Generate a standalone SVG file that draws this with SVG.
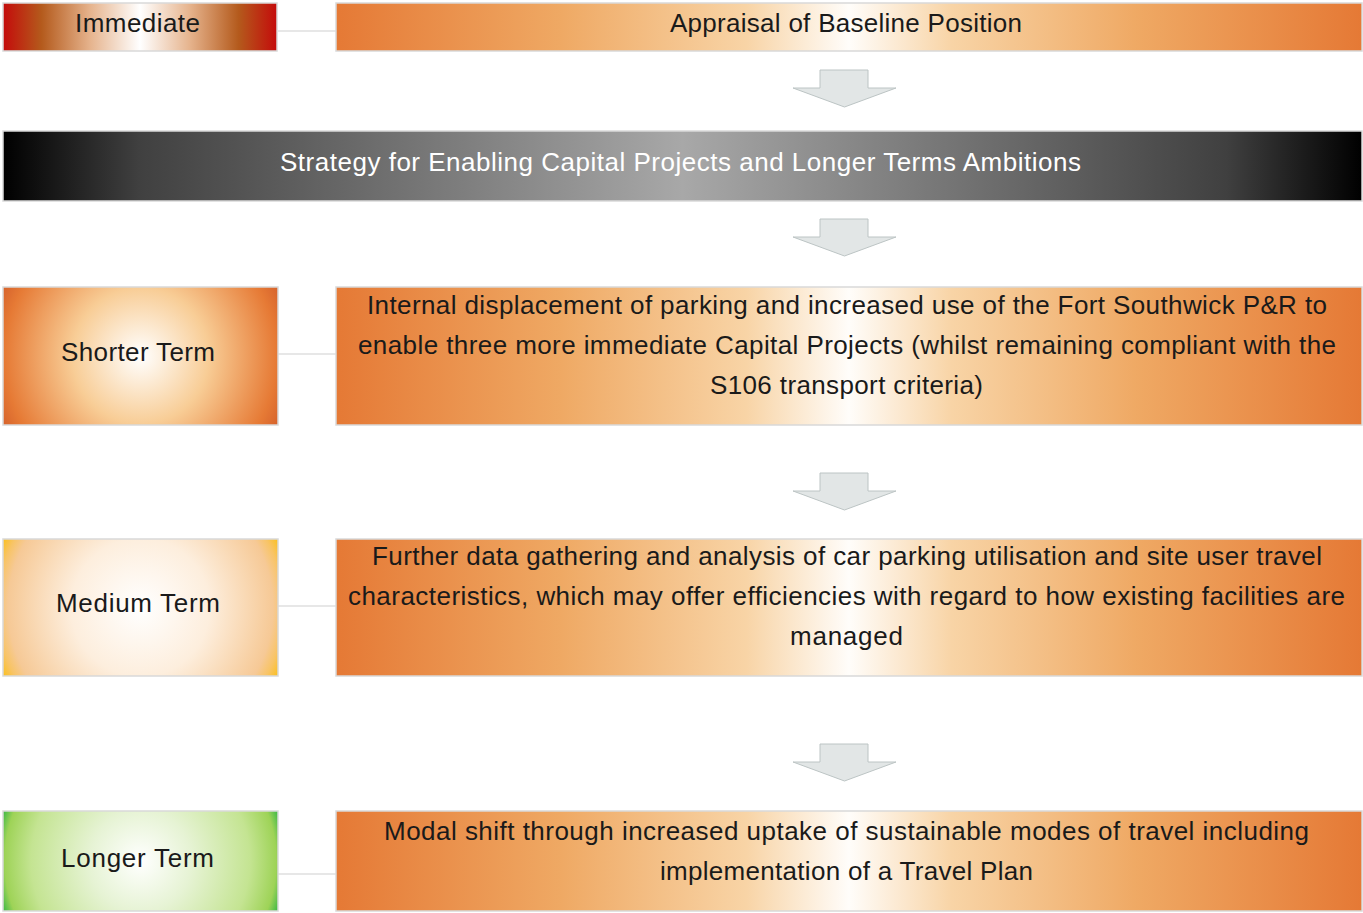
<svg xmlns="http://www.w3.org/2000/svg" width="1363" height="913" viewBox="0 0 1363 913">
  <defs>
    <linearGradient id="gOrange" x1="0" y1="0" x2="1" y2="0">
      <stop offset="0" stop-color="#e57935"/>
      <stop offset="0.22" stop-color="#efa964"/>
      <stop offset="0.4" stop-color="#f8d4a6"/>
      <stop offset="0.5" stop-color="#fffdfa"/>
      <stop offset="0.6" stop-color="#f8d4a6"/>
      <stop offset="0.78" stop-color="#efa964"/>
      <stop offset="1" stop-color="#e57935"/>
    </linearGradient>
    <linearGradient id="gRed" x1="0" y1="0" x2="1" y2="0">
      <stop offset="0" stop-color="#c40b0b"/>
      <stop offset="0.14" stop-color="#b45a1c"/>
      <stop offset="0.32" stop-color="#e6b48e"/>
      <stop offset="0.5" stop-color="#ffffff"/>
      <stop offset="0.68" stop-color="#e6b48e"/>
      <stop offset="0.86" stop-color="#b45a1c"/>
      <stop offset="1" stop-color="#c40b0b"/>
    </linearGradient>
    <linearGradient id="gGrey" x1="0" y1="0" x2="1" y2="0">
      <stop offset="0" stop-color="#000000"/>
      <stop offset="0.1" stop-color="#404040"/>
      <stop offset="0.5" stop-color="#a8a8a8"/>
      <stop offset="0.9" stop-color="#404040"/>
      <stop offset="1" stop-color="#000000"/>
    </linearGradient>
    <radialGradient id="gShort" gradientUnits="userSpaceOnUse" cx="140.5" cy="356" r="170">
      <stop offset="0" stop-color="#ffffff"/>
      <stop offset="0.4" stop-color="#f8cd96"/>
      <stop offset="0.8" stop-color="#e67a35"/>
      <stop offset="0.92" stop-color="#d45f2a"/>
      <stop offset="1" stop-color="#cf5a28"/>
    </radialGradient>
    <radialGradient id="gMedium" gradientUnits="userSpaceOnUse" cx="140.5" cy="607.5" r="154">
      <stop offset="0" stop-color="#ffffff"/>
      <stop offset="0.45" stop-color="#fdeedd"/>
      <stop offset="0.86" stop-color="#f6c996"/>
      <stop offset="0.93" stop-color="#f8c466"/>
      <stop offset="1" stop-color="#fbc01a"/>
    </radialGradient>
    <radialGradient id="gLong" gradientUnits="userSpaceOnUse" cx="140.5" cy="861" r="146">
      <stop offset="0" stop-color="#ffffff"/>
      <stop offset="0.35" stop-color="#e6f3d4"/>
      <stop offset="0.75" stop-color="#c4e492"/>
      <stop offset="0.93" stop-color="#9ed357"/>
      <stop offset="1" stop-color="#3cb846"/>
    </radialGradient>
    <path id="downArrow" d="M820,0 H868 V18 H896 L844.5,37 L793,18 H820 Z"/>
  </defs>
  <style>
    .box { stroke: #d9d9d9; stroke-width: 1.5; }
    .lbl { font-family: "Liberation Sans", Arial, sans-serif; font-size: 26px; fill: #1a1a1a; text-anchor: middle; }
    .white { fill: #ffffff; }
    .link { stroke: #d0d0d0; stroke-width: 1.2; fill: none; }
    .arrow { fill: #e2e6e6; stroke: #bcc4c4; stroke-width: 1; }
  </style>

  <g id="connectors">
    <line class="link" x1="278" y1="31" x2="336" y2="31"/>
    <line class="link" x1="278" y1="354" x2="336" y2="354"/>
    <line class="link" x1="278" y1="606" x2="336" y2="606"/>
    <line class="link" x1="278" y1="874" x2="336" y2="874"/>
    <use href="#downArrow" class="arrow" y="70"/>
    <use href="#downArrow" class="arrow" y="219"/>
    <use href="#downArrow" class="arrow" y="473"/>
    <use href="#downArrow" class="arrow" y="744"/>
  </g>

  <g id="immediate">
    <rect class="box" x="3" y="3" width="274" height="48" fill="url(#gRed)"/>
    <text class="lbl" x="137.5" y="32" textLength="125" lengthAdjust="spacing">Immediate</text>
  </g>
  <g id="appraisal">
    <rect class="box" x="336" y="3" width="1026" height="48" fill="url(#gOrange)"/>
    <text class="lbl" x="846" y="32" textLength="352" lengthAdjust="spacing">Appraisal of Baseline Position</text>
  </g>

  <g id="strategy">
    <rect class="box" x="3" y="131" width="1359" height="70" fill="url(#gGrey)"/>
    <text class="lbl white" x="680.5" y="171" textLength="801" lengthAdjust="spacing">Strategy for Enabling Capital Projects and Longer Terms Ambitions</text>
  </g>

  <g id="shorter-term">
    <rect class="box" x="3" y="287" width="275" height="138" fill="url(#gShort)"/>
    <text class="lbl" x="138" y="361" textLength="154" lengthAdjust="spacing">Shorter Term</text>
  </g>
  <g id="internal-displacement">
    <rect class="box" x="336" y="287" width="1026" height="138" fill="url(#gOrange)"/>
    <text class="lbl" x="847" y="314" textLength="960" lengthAdjust="spacing">Internal displacement of parking and increased use of the Fort Southwick P&amp;R to</text>
    <text class="lbl" x="847" y="354" textLength="978" lengthAdjust="spacing">enable three more immediate Capital Projects (whilst remaining compliant with the</text>
    <text class="lbl" x="846.5" y="394" textLength="273" lengthAdjust="spacing">S106 transport criteria)</text>
  </g>

  <g id="medium-term">
    <rect class="box" x="3" y="539" width="275" height="137" fill="url(#gMedium)"/>
    <text class="lbl" x="138" y="612" textLength="164" lengthAdjust="spacing">Medium Term</text>
  </g>
  <g id="data-gathering">
    <rect class="box" x="336" y="539" width="1026" height="137" fill="url(#gOrange)"/>
    <text class="lbl" x="847" y="565" textLength="950" lengthAdjust="spacing">Further data gathering and analysis of car parking utilisation and site user travel</text>
    <text class="lbl" x="846.5" y="605" textLength="997" lengthAdjust="spacing">characteristics, which may offer efficiencies with regard to how existing facilities are</text>
    <text class="lbl" x="846.5" y="645" textLength="113" lengthAdjust="spacing">managed</text>
  </g>

  <g id="longer-term">
    <rect class="box" x="3" y="811" width="275" height="100" fill="url(#gLong)"/>
    <text class="lbl" x="137.5" y="867" textLength="153" lengthAdjust="spacing">Longer Term</text>
  </g>
  <g id="modal-shift">
    <rect class="box" x="336" y="811" width="1026" height="100" fill="url(#gOrange)"/>
    <text class="lbl" x="846.5" y="840" textLength="925" lengthAdjust="spacing">Modal shift through increased uptake of sustainable modes of travel including</text>
    <text class="lbl" x="846.5" y="880" textLength="373" lengthAdjust="spacing">implementation of a Travel Plan</text>
  </g>
</svg>
